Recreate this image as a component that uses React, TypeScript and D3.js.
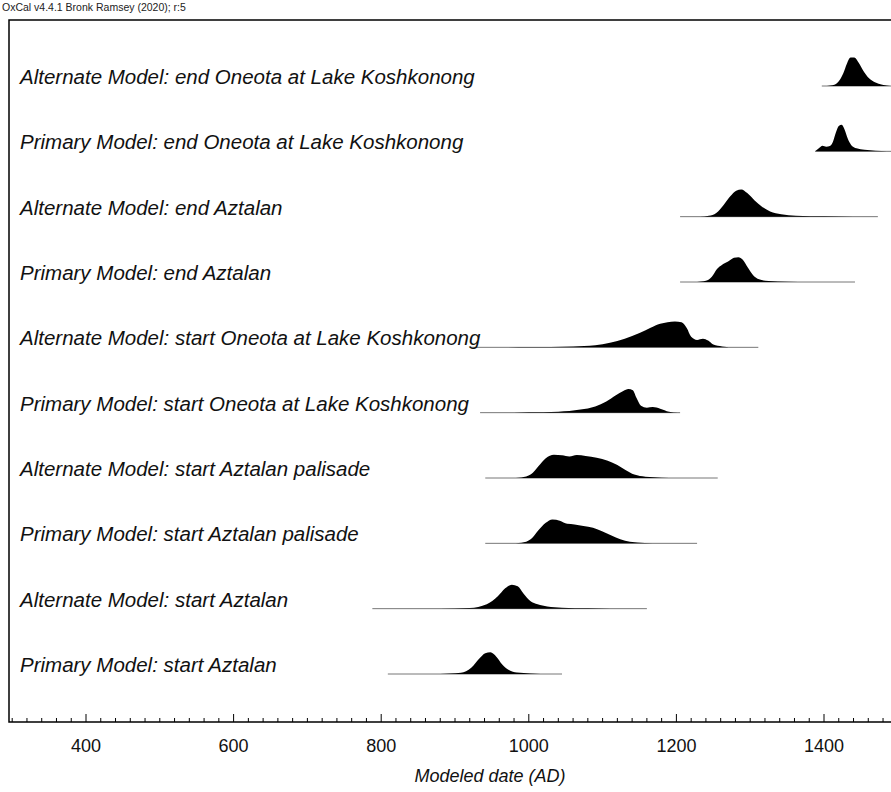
import React from 'react';
import * as d3 from 'd3';

// row labels, top to bottom
const labels = [
  'Alternate Model: end Oneota at Lake Koshkonong',
  'Primary Model: end Oneota at Lake Koshkonong',
  'Alternate Model: end Aztalan',
  'Primary Model: end Aztalan',
  'Alternate Model: start Oneota at Lake Koshkonong',
  'Primary Model: start Oneota at Lake Koshkonong',
  'Alternate Model: start Aztalan palisade',
  'Primary Model: start Aztalan palisade',
  'Alternate Model: start Aztalan',
  'Primary Model: start Aztalan',
];

// full range of each distribution (thin line), years AD
const rangeStart = [1397, 1388, 1205, 1205, 920, 934, 941, 941, 788, 809];
const rangeEnd = [1491, 1491, 1473, 1442, 1311, 1205, 1256, 1228, 1160, 1045];

// posterior densities as [year, relative height]
const altEndOneota: [number, number][] = [
  [1404, 0], [1414, 0.04], [1420, 0.15], [1426, 0.4], [1431, 0.72], [1436, 0.92],
  [1441, 0.92], [1447, 0.75], [1453, 0.5], [1461, 0.25], [1469, 0.12], [1479, 0.04], [1490, 0],
];
const primEndOneota: [number, number][] = [
  [1388, 0], [1393, 0.1], [1398, 0.18], [1403, 0.15], [1408, 0.17], [1412, 0.3],
  [1416, 0.6], [1420, 0.82], [1424, 0.86], [1428, 0.7], [1432, 0.42], [1437, 0.2],
  [1444, 0.1], [1455, 0.05], [1470, 0.02], [1485, 0],
];
const altEndAztalan: [number, number][] = [
  [1232, 0], [1244, 0.03], [1254, 0.12], [1264, 0.38], [1273, 0.66], [1281, 0.84],
  [1288, 0.88], [1296, 0.76], [1306, 0.52], [1316, 0.32], [1327, 0.17], [1342, 0.08],
  [1362, 0.03], [1400, 0.01], [1440, 0],
];
const primEndAztalan: [number, number][] = [
  [1228, 0], [1240, 0.04], [1248, 0.17], [1255, 0.42], [1262, 0.56], [1270, 0.66],
  [1278, 0.78], [1284, 0.8], [1290, 0.72], [1297, 0.46], [1304, 0.22], [1312, 0.09],
  [1325, 0.03], [1350, 0.01], [1380, 0],
];
const altStartOneota: [number, number][] = [
  [960, 0], [1000, 0.01], [1060, 0.03], [1090, 0.07], [1110, 0.15], [1130, 0.28],
  [1150, 0.46], [1165, 0.63], [1178, 0.76], [1188, 0.81], [1198, 0.83], [1207, 0.81],
  [1214, 0.62], [1220, 0.34], [1228, 0.24], [1236, 0.28], [1243, 0.22], [1250, 0.09],
  [1262, 0.03], [1280, 0],
];
const primStartOneota: [number, number][] = [
  [980, 0], [1000, 0.01], [1040, 0.03], [1070, 0.1], [1090, 0.2], [1105, 0.36],
  [1118, 0.56], [1128, 0.7], [1135, 0.76], [1141, 0.72], [1146, 0.47], [1152, 0.22],
  [1160, 0.16], [1168, 0.18], [1178, 0.13], [1190, 0.03], [1202, 0],
];
const altStartPalisade: [number, number][] = [
  [975, 0], [990, 0.02], [1003, 0.12], [1013, 0.38], [1023, 0.64], [1034, 0.75],
  [1045, 0.73], [1055, 0.69], [1065, 0.74], [1077, 0.71], [1092, 0.65], [1107, 0.56],
  [1120, 0.42], [1131, 0.26], [1143, 0.11], [1158, 0.04], [1180, 0.01], [1200, 0],
];
const primStartPalisade: [number, number][] = [
  [975, 0], [990, 0.02], [1003, 0.14], [1013, 0.42], [1023, 0.66], [1032, 0.77],
  [1042, 0.73], [1052, 0.63], [1062, 0.61], [1074, 0.56], [1087, 0.5], [1100, 0.38],
  [1112, 0.25], [1124, 0.13], [1137, 0.05], [1157, 0.01], [1178, 0],
];
const altStartAztalan: [number, number][] = [
  [880, 0], [920, 0.02], [943, 0.14], [958, 0.4], [968, 0.66], [977, 0.77],
  [985, 0.72], [993, 0.48], [1002, 0.25], [1012, 0.14], [1025, 0.07], [1045, 0.03],
  [1080, 0.01], [1110, 0],
];
const primStartAztalan: [number, number][] = [
  [880, 0], [908, 0.04], [922, 0.2], [933, 0.5], [941, 0.67], [948, 0.7],
  [956, 0.56], [964, 0.31], [973, 0.13], [984, 0.05], [1002, 0.02], [1030, 0],
];

const densities = [
  altEndOneota, primEndOneota, altEndAztalan, primEndAztalan, altStartOneota,
  primStartOneota, altStartPalisade, primStartPalisade, altStartAztalan, primStartAztalan,
];

const tickYears = [400, 600, 800, 1000, 1200, 1400];

const W = 891;
const H = 792;
const frameTop = 20;
const axisY = 722;
const frameLeft = 9;

export default function App() {
  const x = d3.scaleLinear().domain([400, 1400]).range([86, 824]);
  const rowY = d3.scalePoint<string>().domain(labels).range([86, 674]);
  const hScale = d3.scaleLinear().domain([0, 1]).range([0, 31]);

  const minorTicks = d3.range(300, 1501, 20);
  const font = 'Arial, "Liberation Sans", sans-serif';

  return (
    <svg width={W} height={H} style={{ display: 'block', position: 'absolute', left: 0, top: 0 }}>
      <rect width={W} height={H} fill="#fff" />
      <text x={2} y={11} fontSize={10.5} fontFamily={font} fill="#222">
        OxCal v4.4.1 Bronk Ramsey (2020); r:5
      </text>

      {labels.map((lab, i) => {
        const base = rowY(lab)!;
        const area = d3
          .area<[number, number]>()
          .x((d) => x(d[0]))
          .y0(base)
          .y1((d) => base - hScale(d[1]))
          .curve(d3.curveMonotoneX);
        return (
          <g key={lab}>
            <line
              x1={x(rangeStart[i])}
              x2={x(rangeEnd[i])}
              y1={base}
              y2={base}
              stroke="#777"
              strokeWidth={1}
            />
            <path d={area(densities[i]) || ''} fill="#000" />
            <text x={20} y={base - 2} fontSize={20.5} fontStyle="italic" fontFamily={font} fill="#111">
              {lab}
            </text>
          </g>
        );
      })}

      {/* frame */}
      <path
        d={`M${W + 10},${frameTop} H${frameLeft} V${axisY} H${W + 10}`}
        fill="none"
        stroke="#000"
        strokeWidth={1.5}
      />

      {/* axis ticks */}
      {minorTicks.map((t) => {
        const major = t % 200 === 0;
        return (
          <line
            key={t}
            x1={x(t)}
            x2={x(t)}
            y1={axisY}
            y2={axisY - (major ? 8 : 4)}
            stroke="#000"
            strokeWidth={1}
          />
        );
      })}
      {tickYears.map((t) => (
        <text key={t} x={x(t)} y={752} fontSize={18} fontFamily={font} textAnchor="middle" fill="#111">
          {t}
        </text>
      ))}
      <text x={490} y={782} fontSize={18} fontStyle="italic" fontFamily={font} textAnchor="middle" fill="#111">
        Modeled date (AD)
      </text>
    </svg>
  );
}
